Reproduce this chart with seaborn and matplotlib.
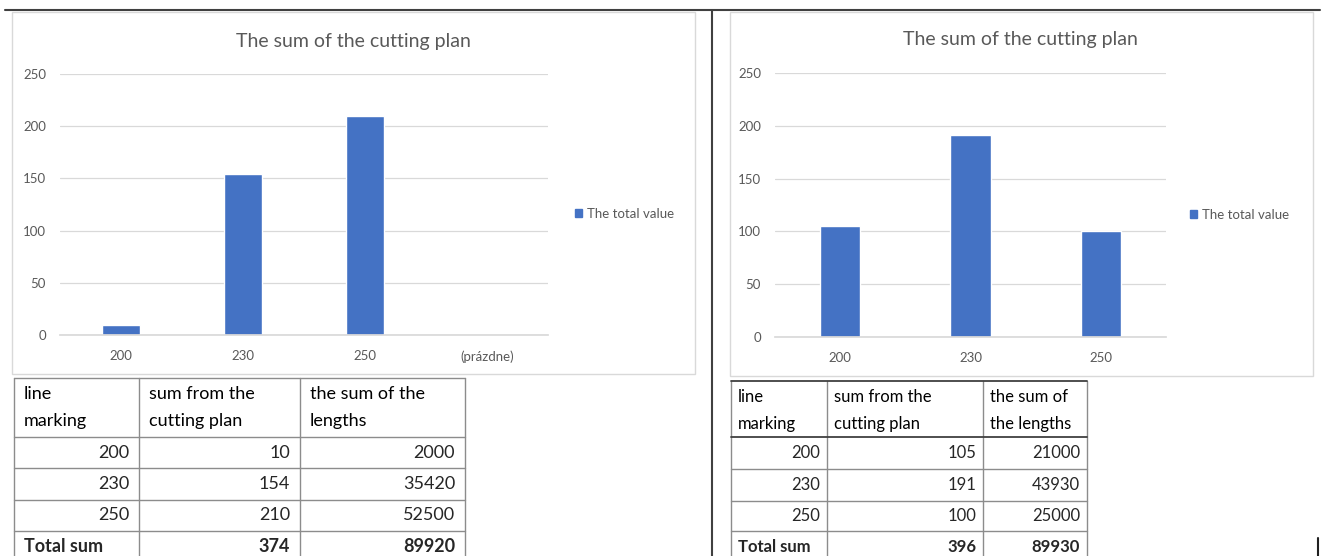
import matplotlib
matplotlib.use("Agg")
import matplotlib.pyplot as plt
import matplotlib.patches as mpatches
from matplotlib.lines import Line2D
import seaborn as sns

# data
line_marks = ['200', '230', '250']
order_left = ['200', '230', '250', '(prázdne)']
order_right = ['200', '230', '250']

plan_left = [10, 154, 210]
lengths_left = [2000, 35420, 52500]
plan_right = [105, 191, 100]
lengths_right = [21000, 43930, 25000]

title = 'The sum of the cutting plan'
legend_label = 'The total value'
head_left = [['line', 'marking'], ['sum from the', 'cutting plan'], ['the sum of the', 'lengths']]
head_right = [['line', 'marking'], ['sum from the', 'cutting plan'], ['the sum of', 'the lengths']]

BLUE = '#4472C4'
GRID = '#D9D9D9'
TXT = '#595959'

sns.set_theme(style='white')
plt.rcParams['font.family'] = ['Lato', 'DejaVu Sans']

W, H = 1322, 556
fig = plt.figure(figsize=(W / 100, H / 100), dpi=100)
fig.patch.set_facecolor('white')

def fx(x):
    return x / W

def fy(y):
    return 1 - y / H

def axes_px(x0, y0, x1, y1):
    return fig.add_axes([fx(x0), fy(y1), fx(x1) - fx(x0), fy(y0) - fy(y1)])

def chart(box, area, order, values, title_xy, legend_xy):
    # light frame of the Excel chart object
    bx0, by0, bx1, by1 = box
    fig.add_artist(mpatches.Rectangle((fx(bx0), fy(by1)), fx(bx1) - fx(bx0), fy(by0) - fy(by1),
                                      transform=fig.transFigure, fill=False, ec=GRID, lw=1))
    ax = axes_px(*area)
    sns.barplot(x=line_marks, y=values, order=order, color=BLUE, saturation=1,
                width=0.31, ax=ax)
    ax.set_ylim(0, 250)
    ax.set_yticks(range(0, 251, 50))
    ax.yaxis.grid(True, color=GRID, lw=0.9)
    ax.set_axisbelow(True)
    for s in ['top', 'right', 'left']:
        ax.spines[s].set_visible(False)
    ax.spines['bottom'].set_color(GRID)
    ax.tick_params(axis='both', length=0, colors=TXT, labelsize=9.5)
    ax.tick_params(axis='x', pad=11)
    ax.tick_params(axis='y', pad=10)
    ax.set_xlabel('')
    ax.set_ylabel('')
    fig.text(fx(title_xy[0]), fy(title_xy[1]), title, ha='center', va='center',
             fontsize=14, color=TXT)
    handle = mpatches.Patch(color=BLUE, label=legend_label)
    fig.legend(handles=[handle], loc='center left', frameon=False,
               bbox_to_anchor=(fx(legend_xy[0]), fy(legend_xy[1])),
               handlelength=0.55, handleheight=0.55, handletextpad=0.35,
               borderaxespad=0, borderpad=0, labelcolor=TXT, fontsize=9.5)
    return ax

chart((12, 12, 695, 374), (60, 74, 548, 335), order_left, plan_left, (353, 41), (575, 214))
chart((730, 12, 1313, 376), (775, 73, 1166, 337), order_right, plan_right, (1020, 40), (1190, 215))

def table(xs, ys, heads, head_y, counts, lengths, fsize, pad, head_lines):
    col = '#8C8C8C'
    for x in xs:
        fig.add_artist(Line2D([fx(x), fx(x)], [fy(ys[0]), fy(H + 5)], color=col, lw=1,
                              transform=fig.transFigure))
    for i, y in enumerate(ys):
        dark = i in (0, 1) and head_lines
        fig.add_artist(Line2D([fx(xs[0]), fx(xs[-1])], [fy(y), fy(y)],
                              color='#404040' if dark else col, lw=1.3 if dark else 1,
                              transform=fig.transFigure))
    # two-line header
    for j, h in enumerate(heads):
        for k, part in enumerate(h):
            fig.text(fx(xs[j] + pad), fy(head_y[k]), part, ha='left', va='center',
                     fontsize=fsize, color='black')
    rows = [[m, str(c), str(l)] for m, c, l in zip(line_marks, counts, lengths)]
    rows.append(['Total sum', str(sum(counts)), str(sum(lengths))])
    for i, r in enumerate(rows):
        yc = (ys[i + 1] + ys[i + 2]) / 2 if i + 2 < len(ys) else ys[i + 1] + 16
        bold = i == len(rows) - 1
        for j, v in enumerate(r):
            if bold and j == 0:
                fig.text(fx(xs[0] + pad), fy(yc), v, ha='left', va='center',
                         fontsize=fsize, weight='bold')
            else:
                fig.text(fx(xs[j + 1] - pad), fy(yc), v, ha='right', va='center',
                         fontsize=fsize, weight='bold' if bold else 'normal')

table([14, 139, 300, 465], [378, 437, 468, 500, 531], head_left, [394, 421],
      plan_left, lengths_left, 13, 10, False)
table([731, 827, 983, 1087], [381, 437, 469, 501, 531], head_right, [397, 424],
      plan_right, lengths_right, 12, 7, True)

# screenshot frame lines
fig.add_artist(Line2D([fx(5), fx(1320)], [fy(10), fy(10)], color='#404040', lw=1.5,
                      transform=fig.transFigure))
fig.add_artist(Line2D([fx(712), fx(712)], [fy(10), fy(H)], color='#404040', lw=1.5,
                      transform=fig.transFigure))
fig.add_artist(Line2D([fx(1318), fx(1318)], [fy(538), fy(H)], color='#202020', lw=1.5,
                      transform=fig.transFigure))

fig.savefig('out.png', dpi=100, facecolor='white')
